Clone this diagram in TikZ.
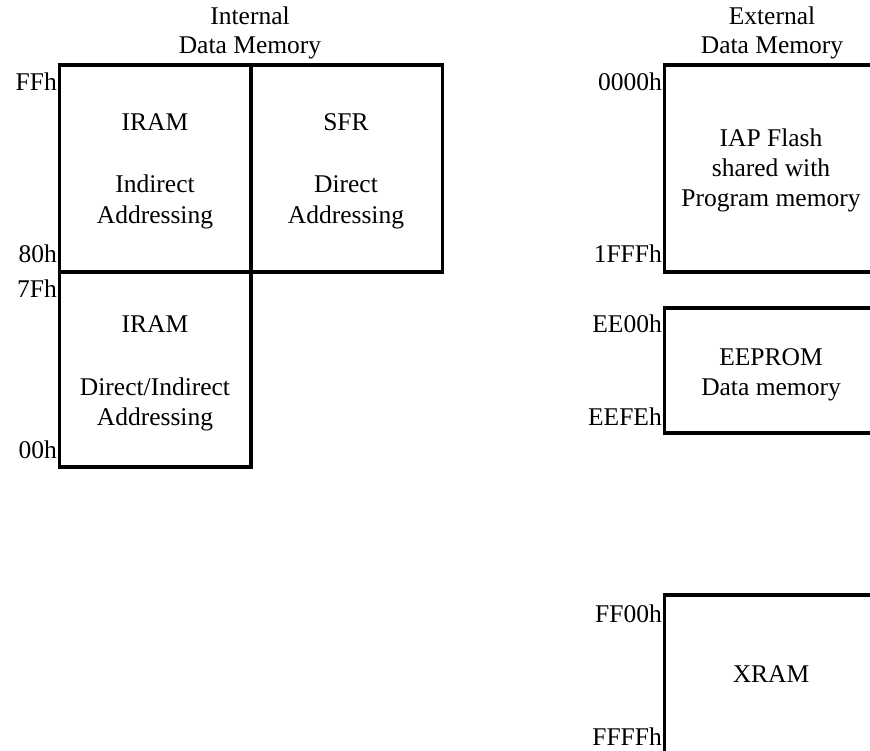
\documentclass[tikz,border=0pt]{standalone}
\usepackage{fontspec}
\setmainfont{Liberation Serif}
\begin{document}
\begin{tikzpicture}[x=1pt,y=-1pt,
  box/.style={line width=3.5pt, line join=miter},
  txt/.style={font=\fontsize{25.5}{30}\selectfont, inner sep=0pt, anchor=base},
  addr/.style={font=\fontsize{25.5}{30}\selectfont, inner sep=0pt, anchor=base east}]
\clip (0,0) rectangle (870,751);
\useasboundingbox (0,0) rectangle (870,751);
% Internal memory boxes
\draw[box] (59.5,65) rectangle (251,272);
\draw[box] (251,65) rectangle (442.5,272);
\draw[box] (59.5,272) rectangle (251,467);
% External memory boxes (open to the right)
\draw[box] (664.5,65) rectangle (890,272);
\draw[box] (664.5,308) rectangle (890,433);
\draw[box] (664.5,595) rectangle (890,790);
% Titles
\node[txt] (t1) at (250,25) {Internal};
\node[txt] (t2) at (250,54) {Data Memory};
\node[txt] (t3) at (772,25) {External};
\node[txt] (t4) at (772,54) {Data Memory};
% Internal labels
\node[addr] (a1) at (57,91) {FFh};
\node[addr] (a2) at (57,263) {80h};
\node[addr] (a3) at (57,298) {7Fh};
\node[addr] (a4) at (57,458) {00h};
\node[txt] (i1) at (155,131) {IRAM};
\node[txt] (i2) at (155,193) {Indirect};
\node[txt] (i3) at (155,224) {Addressing};
\node[txt] (s1) at (346,131) {SFR};
\node[txt] (s2) at (346,193) {Direct};
\node[txt] (s3) at (346,224) {Addressing};
\node[txt] (l1) at (155,333) {IRAM};
\node[txt] (l2) at (155,395) {Direct/Indirect};
\node[txt] (l3) at (155,425) {Addressing};
% External labels
\node[addr] (b1) at (662,91) {0000h};
\node[addr] (b2) at (662,263) {1FFFh};
\node[addr] (b3) at (662,333) {EE00h};
\node[addr] (b4) at (662,425) {EEFEh};
\node[addr] (b5) at (662,622) {FF00h};
\node[addr] (b6) at (662,745) {FFFFh};
\node[txt] (f1) at (771,147) {IAP Flash};
\node[txt] (f2) at (771,177) {shared with};
\node[txt] (f3) at (771,207) {Program memory};
\node[txt] (e1) at (771,365) {EEPROM};
\node[txt] (e2) at (771,395) {Data memory};
\node[txt] (x1) at (771,682) {XRAM};
\end{tikzpicture}
\end{document}
